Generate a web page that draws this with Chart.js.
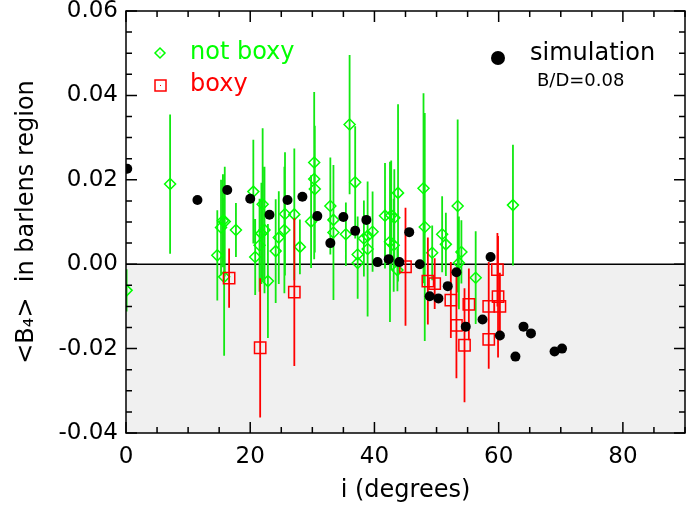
<!DOCTYPE html>
<html>
<head>
<meta charset="utf-8">
<script src="https://cdn.jsdelivr.net/npm/chart.js@4/dist/chart.umd.min.js"></script>
<style>
  html, body { margin: 0; padding: 0; background: #fff; }
  #wrap { width: 698px; height: 506px; }
</style>
</head>
<body>
<div id="wrap"><canvas id="myChart"></canvas></div>
<script>
// datos: inclinacion i (grados) y <B4>
const notBoxyI   = [0.1, 7.1, 14.7, 15.3, 15.6, 15.9, 15.8, 17.7, 20.5, 20.8, 21.5, 22.0, 21.8, 22.3, 22.85, 24.1, 24.6, 25.5, 25.6, 27.1,
                    28.0, 29.8, 30.3, 30.3, 30.4, 32.9, 33.4, 33.4, 35.4, 36.0, 36.9, 37.3, 37.3, 38.3, 38.9, 38.9, 39.7, 41.7, 42.5, 42.7,
                    43.2, 43.7, 43.8, 43.1, 47.9, 48.1, 49.3, 50.9, 51.5, 53.4, 54.0, 53.6, 56.3, 62.3];
const notBoxyB4  = [-0.0062, 0.0190, 0.0021, 0.0087, 0.0103, 0.0101, -0.0030, 0.0081, 0.0172, 0.0017, 0.0045, 0.0142, 0.0073, 0.0081, -0.0040, 0.0031, 0.0063, 0.0081, 0.0119, 0.0118,
                    0.0041, 0.0101, 0.0241, 0.0202, 0.0178, 0.0138, 0.0105, 0.0075, 0.0071, 0.0331, 0.0194, 0.0023, 0.0003, 0.0061, 0.0067, 0.0036, 0.0077, 0.0115, 0.0053, 0.0116,
                    0.0110, -0.0014, 0.0169, 0.0045, 0.0180, 0.0088, 0.0027, 0.0071, 0.0047, 0.0138, 0.0029, 0.0003, -0.0032, 0.0140];
const notBoxyErr = [0.0050, 0.0165, 0.0107, 0.0113, 0.0110, 0.0130, 0.0187, 0.0064, 0.0123, 0.0090, 0.0110, 0.0180, 0.0120, 0.0150, 0.0135, 0.0123, 0.0110, 0.0150, 0.0146, 0.0156,
                    0.0065, 0.0110, 0.0167, 0.0190, 0.0150, 0.0115, 0.0116, 0.0160, 0.0075, 0.0165, 0.0133, 0.0090, 0.0085, 0.0090, 0.0100, 0.0160, 0.0095, 0.0125, 0.0190, 0.0130,
                    0.0115, 0.0050, 0.0210, 0.0110, 0.0225, 0.0270, 0.0065, 0.0090, 0.0075, 0.0205, 0.0075, 0.0110, 0.0110, 0.0143];

const boxyI   = [16.6, 21.6, 27.1, 45.0, 48.6, 49.7, 52.3, 53.2, 54.5, 55.2, 58.4, 58.4, 59.8, 59.9, 60.2];
const boxyB4  = [-0.0033, -0.0198, -0.0066, -0.0006, -0.0040, -0.0046, -0.0085, -0.0145, -0.0192, -0.0095, -0.0100, -0.0178, -0.0013, -0.0077, -0.0100];
const boxyErr = [0.0070, 0.0165, 0.0175, 0.0140, 0.0103, 0.0060, 0.0090, 0.0125, 0.0135, 0.0085, 0.0105, 0.0070, 0.0087, 0.0144, 0.0080];

const simI  = [0.2, 11.5, 16.3, 20.0, 23.1, 26.0, 28.4, 30.8, 32.9, 35.0, 36.9, 38.7, 40.5, 42.3, 44.0, 45.6, 47.3, 48.9, 50.3, 51.8,
               53.2, 54.7, 57.4, 58.7, 60.2, 62.7, 64.0, 65.2, 69.0, 70.2];
const simB4 = [0.0226, 0.0152, 0.0176, 0.0155, 0.0117, 0.0152, 0.0160, 0.0114, 0.0050, 0.0112, 0.0079, 0.0105, 0.0005, 0.0012, 0.0005, 0.0076, 0.0000, -0.0076, -0.0081, -0.0052,
               -0.0019, -0.0148, -0.0131, 0.0017, -0.0169, -0.0219, -0.0148, -0.0164, -0.0207, -0.0200];

const xTicks = [0, 20, 40, 60, 80];
const yTicks = [-0.04, -0.02, 0.00, 0.02, 0.04, 0.06];

const GREEN = '#00ff00';
const GREEN_BAR = '#12e812';
const RED = '#ff0000';
const FONT = 'DejaVu Sans';

const pts = (xs, ys) => xs.map((x, i) => ({x: x, y: ys[i]}));
// barras de error como segmentos cortados con null
const errSegs = (xs, ys, es) => {
  const out = [];
  xs.forEach((x, i) => {
    out.push({x: x, y: ys[i] - es[i]}, {x: x, y: ys[i] + es[i]}, {x: x, y: null});
  });
  return out;
};

const decor = {
  id: 'decor',
  beforeDatasetsDraw(chart) {
    const {ctx, chartArea: a, scales: {x, y}} = chart;
    const y0 = y.getPixelForValue(0);
    ctx.save();
    ctx.fillStyle = '#f0f0f0';
    ctx.fillRect(a.left, y0, a.right - a.left, a.bottom - y0);
    ctx.strokeStyle = '#000';
    ctx.lineWidth = 1.5;
    ctx.beginPath();
    ctx.moveTo(a.left, y0);
    ctx.lineTo(a.right, y0);
    ctx.stroke();
    ctx.restore();
  },
  afterDatasetsDraw(chart) {
    const {ctx, chartArea: a, scales: {x, y}} = chart;
    ctx.save();
    ctx.strokeStyle = '#000';
    ctx.lineWidth = 1.5;
    ctx.strokeRect(a.left, a.top, a.right - a.left, a.bottom - a.top);

    // marcas hacia dentro en los cuatro lados
    ctx.beginPath();
    for (let v = 0; v <= 90; v += 5) {
      const px = x.getPixelForValue(v);
      const len = (v % 20 === 0) ? 11 : 6;
      ctx.moveTo(px, a.bottom); ctx.lineTo(px, a.bottom - len);
      ctx.moveTo(px, a.top); ctx.lineTo(px, a.top + len);
    }
    for (let k = -8; k <= 12; k++) {
      const py = y.getPixelForValue(k * 0.005);
      const len = (k % 4 === 0) ? 11 : 6;
      ctx.moveTo(a.left, py); ctx.lineTo(a.left + len, py);
      ctx.moveTo(a.right, py); ctx.lineTo(a.right - len, py);
    }
    ctx.stroke();

    // leyenda
    ctx.lineWidth = 1.5;
    ctx.strokeStyle = GREEN;
    ctx.beginPath();
    ctx.moveTo(160, 48); ctx.lineTo(165, 53); ctx.lineTo(160, 58); ctx.lineTo(155, 53); ctx.closePath();
    ctx.stroke();
    ctx.fillStyle = GREEN;
    ctx.fillRect(159.5, 52.5, 1, 1);
    ctx.strokeStyle = RED;
    ctx.strokeRect(155, 80, 11, 11);
    ctx.fillStyle = RED;
    ctx.fillRect(160, 85, 1, 1);

    ctx.textBaseline = 'middle';
    ctx.textAlign = 'left';
    ctx.font = '24px "' + FONT + '"';
    ctx.fillStyle = GREEN;
    ctx.fillText('not boxy', 190, 53);
    ctx.fillStyle = RED;
    ctx.fillText('boxy', 190, 85);

    ctx.fillStyle = '#000';
    ctx.beginPath();
    ctx.arc(498, 58, 7, 0, Math.PI * 2);
    ctx.fill();
    ctx.fillText('simulation', 530, 54);
    ctx.font = '18px "' + FONT + '"';
    ctx.fillText('B/D=0.08', 537, 81);
    ctx.restore();
  }
};

const ctx = document.getElementById('myChart').getContext('2d');
const myChart = new Chart(ctx, {
  type: 'scatter',
  data: {
    datasets: [
      {
        label: 'simulation',
        data: pts(simI, simB4),
        pointStyle: 'circle',
        pointRadius: 5,
        backgroundColor: '#000',
        borderColor: '#000',
        borderWidth: 0,
        order: 0
      },
      {
        label: 'boxy',
        data: pts(boxyI, boxyB4),
        pointStyle: 'rect',
        pointRadius: 8,
        backgroundColor: 'rgba(0,0,0,0)',
        borderColor: RED,
        borderWidth: 1.5,
        order: 1
      },
      {
        type: 'line',
        label: 'boxy err',
        data: errSegs(boxyI, boxyB4, boxyErr),
        borderColor: RED,
        borderWidth: 1.8,
        pointRadius: 0,
        spanGaps: false,
        fill: false,
        order: 2
      },
      {
        label: 'not boxy',
        data: pts(notBoxyI, notBoxyB4),
        pointStyle: 'rectRot',
        pointRadius: 5.5,
        backgroundColor: 'rgba(0,0,0,0)',
        borderColor: GREEN,
        borderWidth: 1.5,
        order: 3
      },
      {
        type: 'line',
        label: 'not boxy err',
        data: errSegs(notBoxyI, notBoxyB4, notBoxyErr),
        borderColor: GREEN_BAR,
        borderWidth: 1.8,
        pointRadius: 0,
        spanGaps: false,
        fill: false,
        order: 4
      }
    ]
  },
  options: {
    responsive: true,
    maintainAspectRatio: false,
    animation: false,
    layout: { padding: { top: 11, right: 13, left: 0, bottom: 0 } },
    plugins: {
      legend: { display: false },
      tooltip: { enabled: false }
    },
    scales: {
      x: {
        type: 'linear',
        min: 0,
        max: 90,
        afterBuildTicks: s => { s.ticks = xTicks.map(v => ({value: v})); },
        afterFit: s => { s.height = 73; s.paddingLeft = 0; s.paddingRight = 0; },
        grid: { display: false, drawTicks: false },
        border: { display: false },
        ticks: { color: '#000', padding: 10, maxRotation: 0, font: { family: FONT, size: 23 } },
        title: {
          display: true,
          text: 'i (degrees)',
          color: '#000',
          font: { family: FONT, size: 24 },
          padding: { top: 0, bottom: 1 }
        }
      },
      y: {
        type: 'linear',
        min: -0.04,
        max: 0.06,
        afterBuildTicks: s => { s.ticks = yTicks.map(v => ({value: v})); },
        afterFit: s => { s.width = 126; s.paddingTop = 0; s.paddingBottom = 0; },
        grid: { display: false, drawTicks: false },
        border: { display: false },
        ticks: { color: '#000', padding: 8, font: { family: FONT, size: 23 }, callback: v => v.toFixed(2) },
        title: {
          display: true,
          text: '<B\u2084>  in barlens region',
          color: '#000',
          font: { family: FONT, size: 24 },
          padding: { top: 12, bottom: 0 }
        }
      }
    }
  },
  plugins: [decor]
});
</script>
</body>
</html>
